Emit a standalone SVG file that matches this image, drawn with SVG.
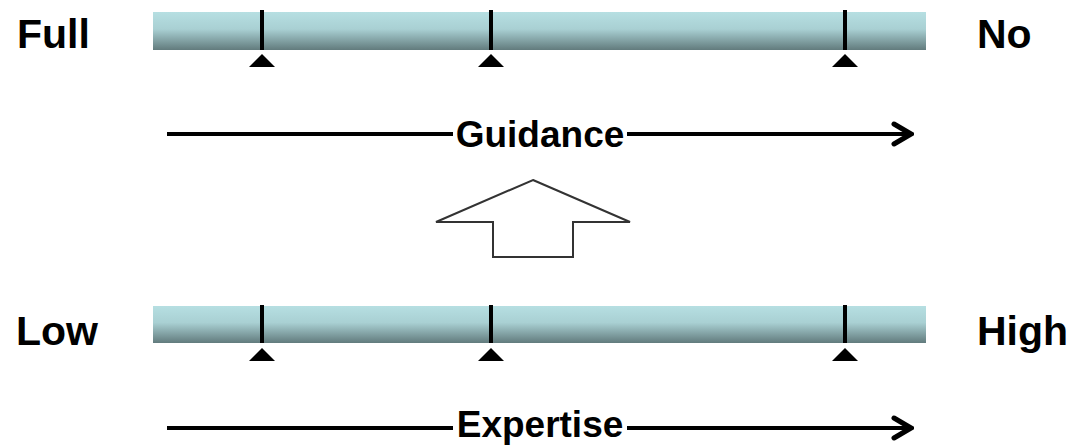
<svg xmlns="http://www.w3.org/2000/svg" width="1074" height="445" viewBox="0 0 1074 445">
  <defs>
    <linearGradient id="barFill" x1="0" y1="0" x2="0" y2="1">
      <stop offset="0" stop-color="#b6dfe2"/>
      <stop offset="0.45" stop-color="#a9d0d3"/>
      <stop offset="1" stop-color="#627b7d"/>
    </linearGradient>
    <marker id="openHead" viewBox="0 0 24 26" refX="21" refY="13" markerWidth="24" markerHeight="26" markerUnits="userSpaceOnUse" orient="auto">
      <path d="M4,3 L21,13 L4,23" fill="none" stroke="#000" stroke-width="5" stroke-linecap="round" stroke-linejoin="miter"/>
    </marker>
  </defs>
  <style>
    .label { font-family: "Liberation Sans", Arial, sans-serif; font-weight: bold; font-size: 41px; fill: #000; }
    .axis { font-family: "Liberation Sans", Arial, sans-serif; font-weight: bold; font-size: 37px; fill: #000; }
    .bar { fill: url(#barFill); }
    .tick { stroke: #000; stroke-width: 4; }
    .pointer { fill: #000; }
    .line { stroke: #000; stroke-width: 4; fill: none; }
    .block { fill: #fff; stroke: #333; stroke-width: 2; }
  </style>

  <!-- Guidance scale -->
  <g id="guidance-scale">
    <rect class="bar" x="153" y="12" width="773" height="38"/>
    <line class="tick" x1="262" y1="10" x2="262" y2="50"/>
    <line class="tick" x1="491" y1="10" x2="491" y2="50"/>
    <line class="tick" x1="845" y1="10" x2="845" y2="50"/>
    <polygon class="pointer" points="262,54 275,67 249,67"/>
    <polygon class="pointer" points="491,54 504,67 478,67"/>
    <polygon class="pointer" points="845,54 858,67 832,67"/>
  </g>
  <g id="label-full"><text class="label" x="17" y="48">Full</text></g>
  <g id="label-no"><text class="label" x="977" y="48">No</text></g>

  <!-- Expertise scale -->
  <g id="expertise-scale">
    <rect class="bar" x="153" y="306" width="773" height="37"/>
    <line class="tick" x1="262" y1="305" x2="262" y2="343"/>
    <line class="tick" x1="491" y1="305" x2="491" y2="343"/>
    <line class="tick" x1="845" y1="305" x2="845" y2="343"/>
    <polygon class="pointer" points="262,348 275,361 249,361"/>
    <polygon class="pointer" points="491,348 504,361 478,361"/>
    <polygon class="pointer" points="845,348 858,361 832,361"/>
  </g>
  <g id="label-low"><text class="label" x="16" y="345">Low</text></g>
  <g id="label-high"><text class="label" x="977" y="345">High</text></g>

  <!-- Axis arrows -->
  <g id="connectors">
    <line class="line" x1="167" y1="134" x2="453" y2="134"/>
    <line class="line" x1="627" y1="134" x2="911" y2="134" marker-end="url(#openHead)"/>
    <line class="line" x1="167" y1="428" x2="453" y2="428"/>
    <line class="line" x1="627" y1="428" x2="911" y2="428" marker-end="url(#openHead)"/>
  </g>
  <g id="axis-guidance"><text class="axis" x="540" y="147" text-anchor="middle">Guidance</text></g>
  <g id="axis-expertise"><text class="axis" x="540" y="437" text-anchor="middle">Expertise</text></g>

  <!-- Block arrow between the scales -->
  <g id="block-arrow">
    <polygon class="block" points="533,180 630,222 573,222 573,257 493,257 493,222 436,222"/>
  </g>
</svg>
